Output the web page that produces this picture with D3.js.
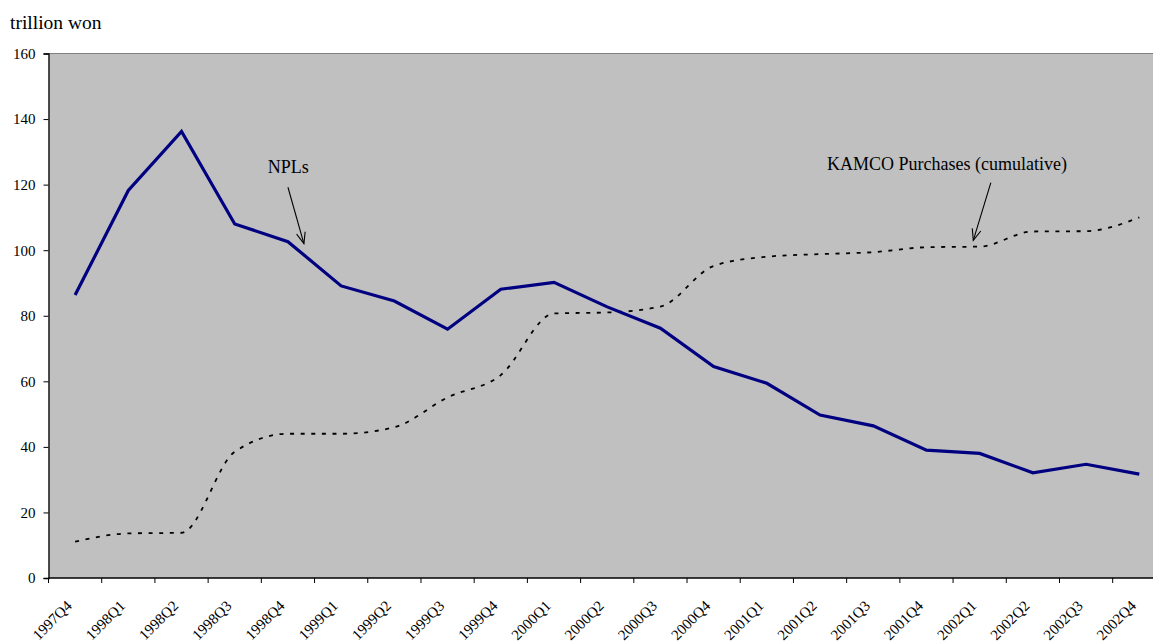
<!DOCTYPE html>
<html>
<head>
<meta charset="utf-8">
<script src="https://cdn.jsdelivr.net/npm/d3@7"></script>
<style>
  body { margin: 0; background: #fff; }
  svg { display: block; }
  text { font-family: 'Liberation Serif', 'DejaVu Serif', serif; fill: #000; }
</style>
</head>
<body>
<svg id="chart" width="1153" height="643"></svg>
<script>
// quarters on the x axis
const quarters = ['1997Q4', '1998Q1', '1998Q2', '1998Q3', '1998Q4', '1999Q1', '1999Q2',
  '1999Q3', '1999Q4', '2000Q1', '2000Q2', '2000Q3', '2000Q4', '2001Q1', '2001Q2',
  '2001Q3', '2001Q4', '2002Q1', '2002Q2', '2002Q3', '2002Q4']
// trillion won
const npls = [86.3, 118.2, 136.2, 108.0, 102.6, 89.1, 84.5, 75.9, 88.1, 90.2, 82.7,
  76.2, 64.5, 59.4, 49.7, 46.4, 39.0, 38.0, 32.1, 34.7, 31.7]
const kamco = [11.1, 13.6, 13.8, 38.5, 44.0, 44.0, 46.0, 55.1, 61.9, 80.7, 81.0,
  82.8, 95.2, 98.0, 98.8, 99.4, 100.9, 101.1, 105.7, 105.8, 110.0]
const yTicks = [0, 20, 40, 60, 80, 100, 120, 140, 160]

const SERIF = "'Liberation Serif', 'DejaVu Serif', serif"
const svg = d3.select('#chart')
const plotLeft = 48.5, plotTop = 53.5, plotBottom = 578
const step = 53.21
const plotRight = plotLeft + step * quarters.length // runs past the window edge, like the original

const x = d3.scaleBand().domain(quarters).range([plotLeft, plotRight]).paddingInner(0).paddingOuter(0)
const y = d3.scaleLinear().domain([0, 160]).range([plotBottom, plotTop])
const cx = function (q) { return x(q) + x.bandwidth() / 2 }

// plot area
svg.append('rect').attr('x', plotLeft).attr('y', plotTop)
  .attr('width', plotRight - plotLeft).attr('height', plotBottom - plotTop)
  .attr('fill', '#c0c0c0')
svg.append('line').attr('x1', plotLeft).attr('x2', plotRight).attr('y1', plotTop).attr('y2', plotTop)
  .attr('stroke', '#808080').attr('stroke-width', 1.2)

// y axis
const yAxis = svg.append('g').attr('transform', 'translate(' + plotLeft + ',0)')
  .call(d3.axisLeft(y).tickValues(yTicks).tickSize(5).tickPadding(8).tickFormat(d3.format('d')))
yAxis.attr('font-family', SERIF)
yAxis.select('.domain').attr('stroke', '#000').attr('stroke-width', 1.3)
yAxis.selectAll('.tick line').attr('stroke', '#000')
yAxis.selectAll('.tick text').attr('font-size', 15).attr('font-family', SERIF)

// x axis, ticks on category boundaries
const xAxis = svg.append('g').attr('transform', 'translate(0,' + plotBottom + ')')
xAxis.append('line').attr('x1', plotLeft).attr('x2', plotRight).attr('stroke', '#000').attr('stroke-width', 1.3)
xAxis.selectAll('.xtick').data(quarters).enter().append('line').attr('class', 'xtick')
  .attr('x1', function (d) { return x(d) }).attr('x2', function (d) { return x(d) })
  .attr('y1', 0).attr('y2', 5).attr('stroke', '#000')
xAxis.selectAll('.xlabel').data(quarters).enter().append('text').attr('class', 'xlabel')
  .attr('transform', function (d) { return 'translate(' + (cx(d) - 6) + ',25) rotate(-45)' })
  .attr('text-anchor', 'end').attr('dy', '0.35em')
  .attr('font-size', 15).attr('font-family', SERIF)
  .text(function (d) { return d })

// unit label
svg.append('text').attr('x', 10).attr('y', 29).attr('font-size', 19.5).attr('font-family', SERIF)
  .text('trillion won')

// KAMCO purchases, smoothed dotted line
const kamcoLine = d3.line()
  .x(function (d, i) { return cx(quarters[i]) })
  .y(function (d) { return y(d) })
  .curve(d3.curveMonotoneX)
svg.append('path').datum(kamco).attr('d', kamcoLine)
  .attr('fill', 'none').attr('stroke', '#000').attr('stroke-width', 1.8)
  .attr('stroke-dasharray', '4,6.6')

// NPLs, straight navy line
const nplLine = d3.line()
  .x(function (d, i) { return cx(quarters[i]) })
  .y(function (d) { return y(d) })
svg.append('path').datum(npls).attr('d', nplLine)
  .attr('fill', 'none').attr('stroke', '#000080').attr('stroke-width', 3.2)
  .attr('stroke-linejoin', 'miter')

// annotations with arrows
function arrow(x1, y1, x2, y2) {
  const g = svg.append('g').attr('stroke', '#000').attr('stroke-width', 1.1).attr('fill', 'none')
  g.append('line').attr('x1', x1).attr('y1', y1).attr('x2', x2).attr('y2', y2)
  const a = Math.atan2(y2 - y1, x2 - x1)
  const len = 12, spread = 0.38
  g.append('path').attr('d', 'M' + (x2 - len * Math.cos(a - spread)) + ',' + (y2 - len * Math.sin(a - spread)) +
    'L' + x2 + ',' + y2 +
    'L' + (x2 - len * Math.cos(a + spread)) + ',' + (y2 - len * Math.sin(a + spread)))
}
function qx(pos) { return plotLeft + step * pos }

svg.append('text').attr('x', qx(4.12)).attr('y', y(123.5)).attr('font-size', 18).attr('font-family', SERIF)
  .text('NPLs')
arrow(qx(4.5), y(119.2), qx(4.8), y(102))

svg.append('text').attr('x', qx(14.63)).attr('y', y(124.5)).attr('font-size', 18).attr('font-family', SERIF)
  .text('KAMCO Purchases (cumulative)')
arrow(qx(17.71), y(120.6), qx(17.38), y(103))
</script>
</body>
</html>
